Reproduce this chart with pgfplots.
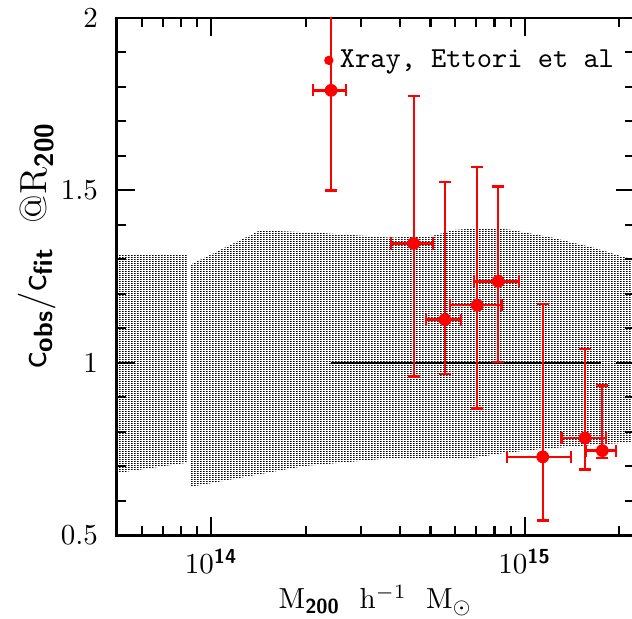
\documentclass[border=0pt]{standalone}
\usepackage{amsmath}
\usepackage{pgfplots}
\usepackage{pgfplotstable}
\pgfplotsset{compat=1.18}
\usetikzlibrary{patterns.meta,calc}

\tikzdeclarepattern{
  name=vdots,
  type=uncolored,
  bounding box={(0,0) and (1.03pt,0.69pt)},
  tile size={(1.03pt,0.69pt)},
  code={\pgfpathrectangle{\pgfpointorigin}{\pgfpoint{0.58pt}{0.5pt}}\pgfusepath{fill}}
}

\pgfplotstableread{
x        y      exp      exm      eyp    eym
2.41e14  1.790  0.28e14  0.30e14  0.41   0.290
4.42e14  1.346  0.67e14  0.67e14  0.428  0.386
5.56e14  1.125  0.69e14  0.72e14  0.399  0.157
7.05e14  1.1665 1.38e14  1.28e14  0.4015 0.2995
8.22e14  1.236  1.37e14  1.35e14  0.275  0.234
1.14e15  0.727  2.60e14  2.61e14  0.444  0.185
1.556e15 0.782  2.54e14  2.46e14  0.257  0.092
1.766e15 0.745  1.88e14  1.99e14  0.189  0.021
}\xray

\begin{document}
\begin{tikzpicture}
\begin{axis}[
  scale only axis, width=178.3pt, height=178.3pt,
  xmode=log, xmin=5e13, xmax=2.23e15, ymin=0.5, ymax=2,
  xtick={1e14,1e15},
  xticklabels={$10^{\textsf{\textbf{14}}}$,$10^{\textsf{\textbf{15}}}$},
  minor xtick={6e13,7e13,8e13,9e13,2e14,3e14,4e14,5e14,6e14,7e14,8e14,9e14,2e15},
  ytick={0.5,1,1.5,2},
  minor ytick={0.6,0.7,0.8,0.9,1.1,1.2,1.3,1.4,1.6,1.7,1.8,1.9},
  tick align=inside,
  major tick length=6.2pt, minor tick length=3.2pt,
  every tick/.style={black, line width=0.7pt},
  axis line style={line width=1pt},
  yticklabel style={xshift=-3pt},
  xticklabel style={yshift=-1.2pt},
  xlabel={M$_{\textsf{\textbf{200}}}$\ \ h$^{-1}$\ \ M$_{\odot}$},
  ylabel={\textsf{c}$_{\textsf{\textbf{obs}}}$/\textsf{c}$_{\textsf{\textbf{fit}}}$\ \ @R$_{\textsf{\textbf{200}}}$},
  xlabel style={at={(axis description cs:0.5,-0.126)}, anchor=center},
  ylabel style={at={(axis description cs:-0.155,0.56)}, anchor=center, font=\fontsize{13}{15}\selectfont},
]
% band
\addplot[draw=none, pattern=vdots, pattern color=black] coordinates {
  (5e13,1.314) (8.4e13,1.314) (8.4e13,0.71) (5e13,0.68)
} -- cycle;
\addplot[draw=none, pattern=vdots, pattern color=black] coordinates {
  (8.6e13,1.285) (1.43e14,1.384) (2.18e14,1.377) (3.73e14,1.363) (5.09e14,1.368)
  (5.92e14,1.385) (6.87e14,1.389) (8.83e14,1.387) (1.22e15,1.363) (1.65e15,1.334)
  (2.1e15,1.305) (2.23e15,1.30)
  (2.23e15,0.770) (1.13e15,0.750) (8.4e14,0.737) (6.87e14,0.724) (3.5e14,0.721)
  (1.97e14,0.700) (8.6e13,0.640)
} -- cycle;
% reference line
\addplot[black, line width=0.7pt] coordinates {(2.41e14,1) (1.75e15,1)};
% data
\addplot[only marks, red, mark=*, mark size=2pt,
  error bars/.cd, x dir=both, x explicit, y dir=both, y explicit,
  error bar style={line width=0.8pt, red},
  error mark=-,
  error mark options={rotate=90, mark size=2.1pt, line width=0.8pt, red}]
  table[x=x, y=y, x error plus=exp, x error minus=exm, y error plus=eyp, y error minus=eym]{\xray};
% legend
\addplot[only marks, red, mark=*, mark size=1.4pt] coordinates {(2.37e14,1.877)};
\node[anchor=base west, inner sep=0pt, font=\ttfamily] at (axis cs:2.56e14,1.855) {Xray, Ettori et al};
\end{axis}
\pgfresetboundingbox
\path ($(current axis.south west)+(-40.3pt,-28.6pt)$) rectangle ($(current axis.north east)+(-0.7pt,6.2pt)$);
\end{tikzpicture}
\end{document}
